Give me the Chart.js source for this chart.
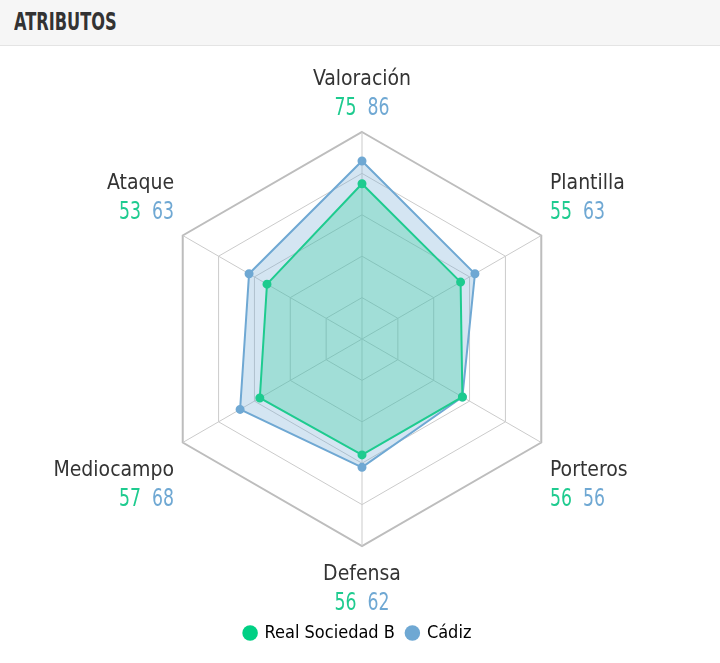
<!DOCTYPE html>
<html>
<head>
<meta charset="utf-8">
<script src="https://cdn.jsdelivr.net/npm/chart.js@4.4.1/dist/chart.umd.min.js"></script>
<style>
  html, body { margin: 0; padding: 0; background: #fff; }
  body { width: 720px; height: 663px; overflow: hidden; font-family: "DejaVu Sans Condensed", sans-serif; }
  .head {
    height: 46px; background: #f6f6f6; border-bottom: 1px solid #e4e4e4;
    box-sizing: border-box; padding-left: 14px; line-height: 43px;
    font-size: 25px; font-weight: bold; color: #333;
  }
  .head span { display: inline-block; transform: scaleX(0.72); transform-origin: left center; }
  .wrap { position: relative; width: 720px; height: 617px; }
</style>
</head>
<body>
<div class="head"><span>ATRIBUTOS</span></div>
<div class="wrap"><canvas id="radar"></canvas></div>
<script>
const categories = ["Valoración", "Plantilla", "Porteros", "Defensa", "Mediocampo", "Ataque"];
const seriesNames = ["Real Sociedad B", "Cádiz"];
const realSociedadB = [75, 55, 56, 56, 57, 53];
const cadiz = [86, 63, 56, 62, 68, 63];
const ticks = [0, 20, 40, 60, 80, 100];

const GREEN = "#1ecb8f";
const BLUE = "#6fa8d3";
const FONT = "'DejaVu Sans Condensed', sans-serif";
const LINE = 28;

// axis names and the two coloured numbers under them
const axisLabels = {
  id: "axisLabels",
  afterDraw(chart) {
    const items = chart.scales.r._pointLabelItems;
    if (!items) return;
    const ctx = chart.ctx;
    const shift = [0, -5, 9, 5, 9, -5];
    const sx = 0.8;
    ctx.save();
    ctx.textBaseline = "middle";
    items.forEach((it, i) => {
      const y1 = it.top + LINE / 2 + shift[i];
      const y2 = y1 + LINE + 1;
      ctx.font = "21px " + FONT;
      ctx.fillStyle = "#333";
      ctx.textAlign = it.textAlign;
      const xName = it.textAlign === "left" ? it.left : it.textAlign === "right" ? it.right : (it.left + it.right) / 2;
      ctx.fillText(categories[i], xName, y1);

      ctx.font = "24px " + FONT;
      const a = String(realSociedadB[i]);
      const b = String(cadiz[i]);
      const gap = 11;
      const wa = ctx.measureText(a).width * sx;
      const wb = ctx.measureText(b).width * sx;
      const total = wa + gap + wb;
      let x0;
      if (it.textAlign === "left") x0 = it.left;
      else if (it.textAlign === "right") x0 = it.right - total;
      else x0 = xName - total / 2;
      ctx.textAlign = "left";
      ctx.save();
      ctx.translate(x0, y2);
      ctx.scale(sx, 1);
      ctx.fillStyle = GREEN;
      ctx.fillText(a, 0, 0);
      ctx.fillStyle = BLUE;
      ctx.fillText(b, (wa + gap) / sx, 0);
      ctx.restore();
    });
    ctx.restore();
  }
};

new Chart(document.getElementById("radar").getContext("2d"), {
  type: "radar",
  data: {
    labels: categories,
    datasets: [
      {
        label: seriesNames[0],
        data: realSociedadB,
        borderColor: GREEN,
        backgroundColor: "rgba(30,203,143,0.28)",
        pointBackgroundColor: GREEN,
        pointBorderColor: GREEN,
        borderWidth: 2,
        pointRadius: 3.5,
      },
      {
        label: seriesNames[1],
        data: cadiz,
        borderColor: BLUE,
        backgroundColor: "rgba(111,168,211,0.3)",
        pointBackgroundColor: BLUE,
        pointBorderColor: BLUE,
        borderWidth: 2,
        pointRadius: 3.5,
      },
    ],
  },
  options: {
    responsive: true,
    maintainAspectRatio: false,
    animation: false,
    layout: { padding: { top: 20, left: 0, right: 4, bottom: 11 } },
    scales: {
      r: {
        min: ticks[0],
        max: ticks[ticks.length - 1],
        ticks: { stepSize: 20, display: false },
        grid: {
          color: (c) => (c.index === ticks.length - 1 ? "#bdbdbd" : "#cbcbcb"),
          lineWidth: (c) => (c.index === ticks.length - 1 ? 2 : 1),
        },
        angleLines: { color: "#cbcbcb" },
        pointLabels: {
          padding: 10,
          color: "rgba(0,0,0,0)",
          font: { family: FONT, size: 21, lineHeight: LINE / 21 },
          callback: (label) => [label, "00 00"],
        },
      },
    },
    plugins: {
      legend: {
        position: "bottom",
        labels: {
          usePointStyle: true,
          pointStyle: "circle",
          boxWidth: 11,
          boxHeight: 11,
          padding: 12,
          color: "#1a1a1a",
          font: { family: FONT, size: 18 },
          generateLabels: (chart) =>
            chart.data.datasets.map((d, i) => ({
              text: d.label,
              fillStyle: i === 0 ? "#00d084" : BLUE,
              strokeStyle: i === 0 ? "#00d084" : BLUE,
              pointStyle: "circle",
              lineWidth: 0,
              datasetIndex: i,
            })),
        },
      },
      tooltip: { enabled: false },
    },
  },
  plugins: [axisLabels],
});
</script>
</body>
</html>
